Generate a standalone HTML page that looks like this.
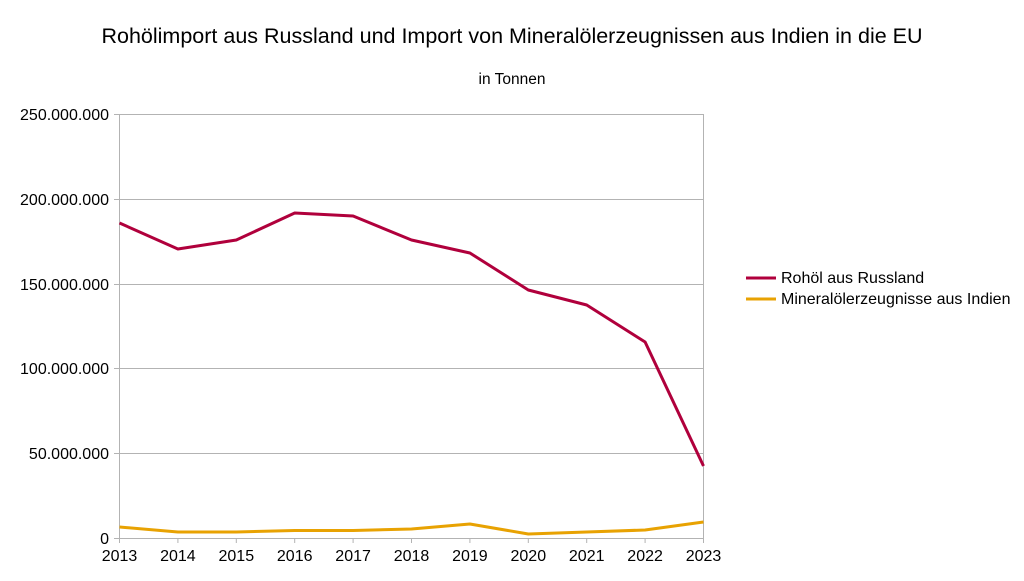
<!DOCTYPE html><html><head><style>body{margin:0;background:#fff;width:1024px;height:576px;overflow:hidden;font-family:"Liberation Sans",sans-serif}</style></head><body>
<svg width="1024" height="576" xmlns="http://www.w3.org/2000/svg" font-family="Liberation Sans, sans-serif">
<text x="512" y="43" text-anchor="middle" font-size="21.5" fill="#000">Rohölimport aus Russland und Import von Mineralölerzeugnissen aus Indien in die EU</text>
<text x="512" y="84" text-anchor="middle" font-size="15.5" fill="#000">in Tonnen</text>
<g stroke="#b3b3b3" stroke-width="1">
<line x1="114" y1="114.5" x2="703" y2="114.5"/><line x1="114" y1="199.5" x2="703" y2="199.5"/><line x1="114" y1="284.5" x2="703" y2="284.5"/><line x1="114" y1="368.5" x2="703" y2="368.5"/><line x1="114" y1="453.5" x2="703" y2="453.5"/><line x1="114" y1="538.5" x2="703" y2="538.5"/>
<line x1="119.5" y1="114" x2="119.5" y2="543"/><line x1="703.5" y1="114" x2="703.5" y2="543"/>
<line x1="177.9" y1="538" x2="177.9" y2="543"/><line x1="236.3" y1="538" x2="236.3" y2="543"/><line x1="294.7" y1="538" x2="294.7" y2="543"/><line x1="353.1" y1="538" x2="353.1" y2="543"/><line x1="411.5" y1="538" x2="411.5" y2="543"/><line x1="469.9" y1="538" x2="469.9" y2="543"/><line x1="528.3" y1="538" x2="528.3" y2="543"/><line x1="586.7" y1="538" x2="586.7" y2="543"/><line x1="645.1" y1="538" x2="645.1" y2="543"/>
</g>
<g font-size="16" fill="#000" text-anchor="end">
<text x="109" y="120">250.000.000</text><text x="109" y="205">200.000.000</text><text x="109" y="290">150.000.000</text><text x="109" y="374">100.000.000</text><text x="109" y="459">50.000.000</text><text x="109" y="544">0</text>
</g>
<g font-size="16" fill="#000" text-anchor="middle">
<text x="119.5" y="561">2013</text><text x="177.9" y="561">2014</text><text x="236.3" y="561">2015</text><text x="294.7" y="561">2016</text><text x="353.1" y="561">2017</text><text x="411.5" y="561">2018</text><text x="469.9" y="561">2019</text><text x="528.3" y="561">2020</text><text x="586.7" y="561">2021</text><text x="645.1" y="561">2022</text><text x="703.5" y="561">2023</text>
</g>
<polyline fill="none" stroke="#b0003c" stroke-width="3" stroke-linejoin="round" points="119.5,223 177.9,249 236.3,240 294.7,213 353.1,216 411.5,240 469.9,253 528.3,290 586.7,305 645.1,342 703.5,466"/>
<polyline fill="none" stroke="#e8a202" stroke-width="3" stroke-linejoin="round" points="119.5,527 177.9,532 236.3,532 294.7,530.5 353.1,530.5 411.5,529 469.9,524 528.3,534 586.7,532 645.1,530 703.5,522"/>
<line x1="746" y1="278" x2="776" y2="278" stroke="#b0003c" stroke-width="3"/>
<text x="781" y="283" font-size="16">Rohöl aus Russland</text>
<line x1="746" y1="299" x2="776" y2="299" stroke="#e8a202" stroke-width="3"/>
<text x="781" y="304" font-size="16">Mineralölerzeugnisse aus Indien</text>
</svg></body></html>
